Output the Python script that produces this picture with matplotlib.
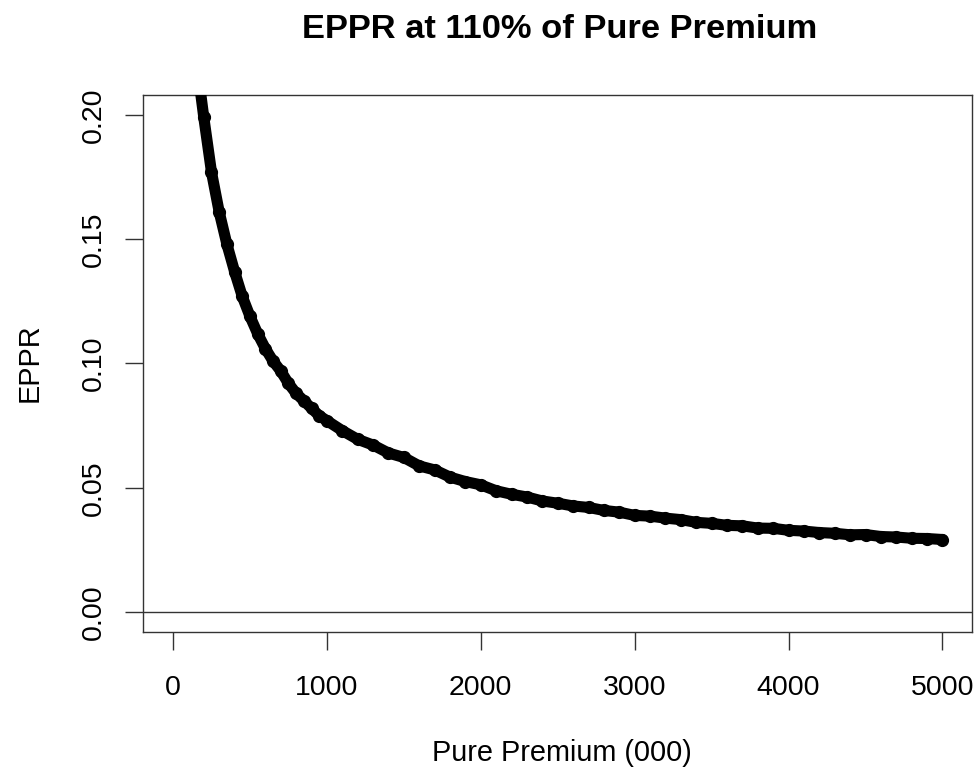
import matplotlib
matplotlib.use("Agg")
import matplotlib.pyplot as plt

plt.rcParams["font.family"] = ["Liberation Sans", "DejaVu Sans"]

# values
premium = [150, 175, 200, 250, 300, 350, 400, 450, 500, 550, 600, 650, 700, 750,
           800, 850, 900, 950, 1000, 1100, 1200, 1300, 1400, 1500, 1600, 1700,
           1800, 1900, 2000, 2100, 2200, 2300, 2400, 2500, 2600, 2700, 2800,
           2900, 3000, 3100, 3200, 3300, 3400, 3500, 3600, 3700, 3800, 3900,
           4000, 4100, 4200, 4300, 4400, 4500, 4600, 4700, 4800, 4900, 5000]
eppr = [0.228, 0.211, 0.199, 0.177, 0.161, 0.148, 0.137, 0.127, 0.119, 0.112,
        0.106, 0.101, 0.097, 0.092, 0.088, 0.085, 0.082, 0.079, 0.077, 0.073,
        0.0695, 0.0672, 0.064, 0.0622, 0.0588, 0.0572, 0.0543, 0.0525, 0.0512,
        0.0488, 0.0474, 0.0463, 0.0447, 0.0438, 0.0427, 0.0421, 0.0409,
        0.0402, 0.0389, 0.0386, 0.0378, 0.0372, 0.0361, 0.0357, 0.0349,
        0.0347, 0.0338, 0.0337, 0.0329, 0.0326, 0.0320, 0.0317, 0.0311,
        0.0312, 0.0304, 0.0302, 0.0297, 0.0296, 0.0292]

x_ticks = [0, 1000, 2000, 3000, 4000, 5000]
y_ticks = [0.00, 0.05, 0.10, 0.15, 0.20]


def main() -> None:
    fig = plt.figure(figsize=(9.77, 7.71), dpi=100)
    ax = fig.add_axes([143 / 977, 1 - 632 / 771, (972 - 143) / 977, (632 - 95) / 771])

    ax.plot(premium, eppr, color="black", lw=8, solid_capstyle="round",
            solid_joinstyle="round", marker="o", ms=8.5, zorder=3)
    ax.axhline(0, color="#333333", lw=1)

    ax.set_xlim(-195, 5192)
    ax.set_ylim(-0.008, 0.208)
    ax.set_xticks(x_ticks)
    ax.set_xticklabels([str(t) for t in x_ticks])
    ax.set_yticks(y_ticks)
    ax.set_yticklabels([f"{t:.2f}" for t in y_ticks], rotation=90, va="center")
    ax.tick_params(length=13, width=1, color="#333333", labelsize=20.5)
    ax.tick_params(axis="x", pad=18)
    ax.tick_params(axis="y", pad=13)

    for s in ax.spines.values():
        s.set_color("#333333")
        s.set_linewidth(1)

    fig.text(560 / 977, 1 - 30 / 771, "EPPR at 110% of Pure Premium",
             ha="center", va="center", fontsize=24.8, fontweight="bold")
    fig.text(562 / 977, 1 - 753 / 771, "Pure Premium (000)",
             ha="center", va="center", fontsize=20.8)
    fig.text(30 / 977, 1 - 363 / 771, "EPPR", ha="center", va="center",
             rotation=90, fontsize=20.8)

    fig.savefig("out.png", dpi=100)


if __name__ == "__main__":
    main()
